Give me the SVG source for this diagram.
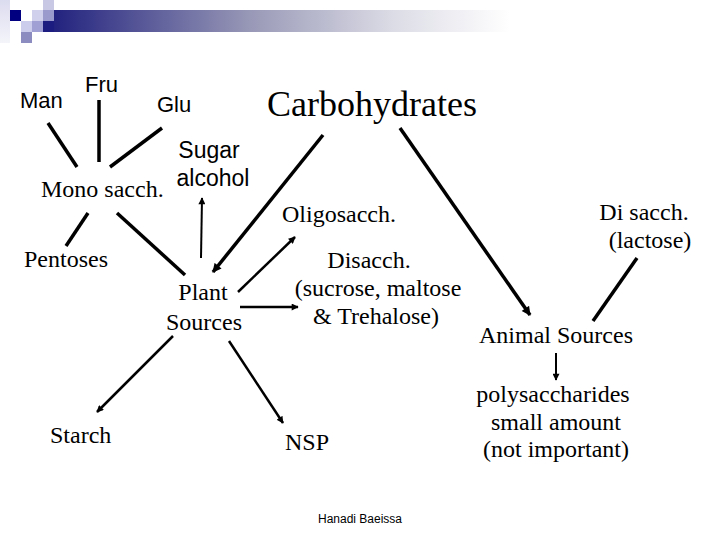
<svg xmlns="http://www.w3.org/2000/svg" width="720" height="540" viewBox="0 0 720 540">
<defs>
<linearGradient id="band" x1="0" y1="0" x2="1" y2="0">
<stop offset="0" stop-color="#1c1c7c"/>
<stop offset="0.45" stop-color="#9a9ab8"/>
<stop offset="0.75" stop-color="#dcdce6"/>
<stop offset="1" stop-color="#ffffff"/>
</linearGradient>
<linearGradient id="strip" x1="0" y1="0" x2="0" y2="1">
<stop offset="0" stop-color="#dcdcf0"/>
<stop offset="1" stop-color="#f4f4fa"/>
</linearGradient>
<marker id="ah" viewBox="0 0 10 10" refX="9" refY="5" markerWidth="10" markerHeight="9" markerUnits="userSpaceOnUse" orient="auto">
<path d="M0,0 L10,5 L0,10 z" fill="#000"/>
</marker>
<marker id="ahs" viewBox="0 0 10 10" refX="9" refY="5" markerWidth="8" markerHeight="7" markerUnits="userSpaceOnUse" orient="auto">
<path d="M0,0 L10,5 L0,10 z" fill="#000"/>
</marker>
</defs>
<style>
.serif{font-family:"Liberation Serif","Times New Roman",serif;font-size:24px;fill:#000}
.sans{font-family:"Liberation Sans",Arial,sans-serif;font-size:22px;fill:#000}
.thick{stroke:#000;stroke-width:3.5;fill:none}
.thin{stroke:#000;stroke-width:2.5;fill:none}
</style>
<rect width="720" height="540" fill="#fff"/>
<g id="header">
<rect x="43" y="10" width="467" height="22" fill="url(#band)"/>
<rect x="0" y="0" width="10" height="43" fill="url(#strip)"/>
<rect x="10" y="10" width="11" height="11" fill="#000080"/>
<rect x="43" y="0" width="11" height="10" fill="#c8c8e4"/>
<rect x="32" y="10" width="11" height="11" fill="#d0d0ec"/>
<rect x="43" y="10" width="11" height="11" fill="#9a9acc"/>
<rect x="21" y="21" width="11" height="11" fill="#ccccec"/>
<rect x="32" y="21" width="11" height="11" fill="#a0a0d4"/>
<rect x="43" y="21" width="11" height="11" fill="#1c1c80"/>
<rect x="21" y="32" width="11" height="11" fill="#8c8cc0"/>
</g>
<g id="connectors">
<line class="thick" x1="48" y1="123" x2="77" y2="167"/>
<line class="thick" x1="99" y1="100" x2="99" y2="162"/>
<line class="thick" x1="162" y1="128" x2="110" y2="167"/>
<line class="thick" x1="88" y1="213" x2="66" y2="246"/>
<line class="thick" x1="117" y1="213" x2="185" y2="275"/>
<line stroke="#000" stroke-width="2" x1="201" y1="258" x2="202" y2="198" marker-end="url(#ahs)"/>
<line class="thick" x1="323" y1="135" x2="213" y2="272" marker-end="url(#ah)"/>
<line class="thin" x1="238" y1="292" x2="295" y2="237" marker-end="url(#ahs)"/>
<line class="thin" x1="240" y1="307" x2="298" y2="307" marker-end="url(#ahs)"/>
<line class="thin" x1="173" y1="336" x2="97" y2="412" marker-end="url(#ahs)"/>
<line class="thin" x1="229" y1="341" x2="283" y2="423" marker-end="url(#ahs)"/>
<line class="thick" x1="400" y1="128" x2="530" y2="315" marker-end="url(#ah)"/>
<line class="thick" x1="637" y1="258" x2="593" y2="321"/>
<line stroke="#000" stroke-width="2" x1="556" y1="353" x2="556" y2="380" marker-end="url(#ahs)"/>
</g>
<g id="carbohydrates"><text class="serif" x="267" y="116" style="font-size:36px">Carbohydrates</text></g>
<g id="man"><text class="sans" x="20" y="108">Man</text></g>
<g id="fru"><text class="sans" x="85" y="92">Fru</text></g>
<g id="glu"><text class="sans" x="157" y="112">Glu</text></g>
<g id="sugar-alcohol"><text class="sans" x="209" y="158" text-anchor="middle" style="font-size:23px">Sugar</text><text class="sans" x="213" y="186" text-anchor="middle" style="font-size:23px">alcohol</text></g>
<g id="mono"><text class="serif" x="41" y="197">Mono sacch.</text></g>
<g id="oligo"><text class="serif" x="282" y="222">Oligosacch.</text></g>
<g id="disacch-lactose"><text class="serif" x="644" y="220" text-anchor="middle">Di sacch.</text><text class="serif" x="650" y="248" text-anchor="middle">(lactose)</text></g>
<g id="pentoses"><text class="serif" x="24" y="267">Pentoses</text></g>
<g id="plant"><text class="serif" x="203" y="300" text-anchor="middle">Plant</text><text class="serif" x="204" y="330" text-anchor="middle">Sources</text></g>
<g id="disacch"><text class="serif" x="369" y="268" text-anchor="middle">Disacch.</text><text class="serif" x="378" y="296" text-anchor="middle">(sucrose, maltose</text><text class="serif" x="376" y="324" text-anchor="middle">&amp; Trehalose)</text></g>
<g id="animal"><text class="serif" x="556" y="343" text-anchor="middle">Animal Sources</text></g>
<g id="poly"><text class="serif" x="553" y="402" text-anchor="middle">polysaccharides</text><text class="serif" x="556" y="430" text-anchor="middle">small amount</text><text class="serif" x="556" y="457" text-anchor="middle">(not important)</text></g>
<g id="starch"><text class="serif" x="50" y="443">Starch</text></g>
<g id="nsp"><text class="serif" x="285" y="450">NSP</text></g>
<g id="footer"><text x="360" y="523" text-anchor="middle" style="font-family:'Liberation Sans',Arial,sans-serif;font-size:12px;fill:#000">Hanadi Baeissa</text></g>
</svg>
